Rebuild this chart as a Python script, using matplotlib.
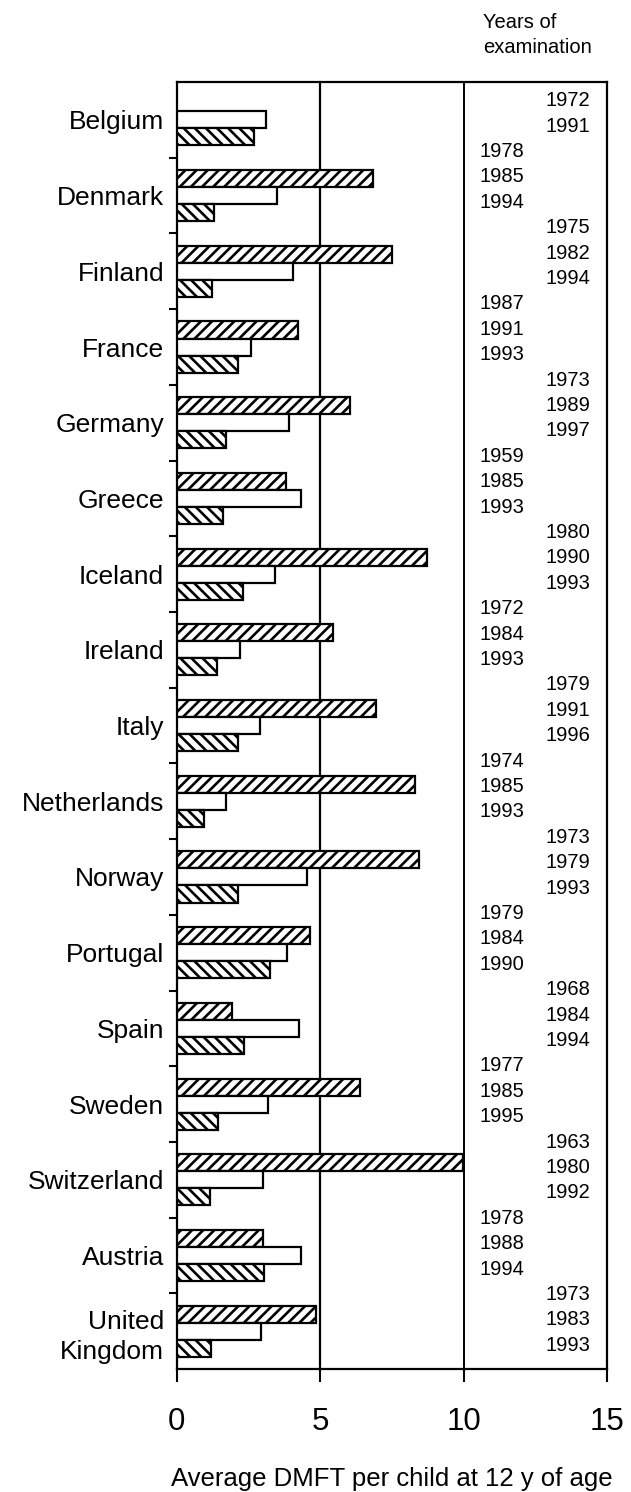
import numpy as np
import matplotlib
matplotlib.use('Agg')
import matplotlib.pyplot as plt

countries = ['Belgium', 'Denmark', 'Finland', 'France', 'Germany', 'Greece',
             'Iceland', 'Ireland', 'Italy', 'Netherlands', 'Norway', 'Portugal',
             'Spain', 'Sweden', 'Switzerland', 'Austria', 'United\nKingdom']
# DMFT at first, second and third examination (Belgium has only two)
first = [np.nan, 6.83, 7.51, 4.23, 6.03, 3.82, 8.73, 5.44, 6.95, 8.29,
         8.45, 4.66, 1.94, 6.38, 9.98, 3.0, 4.85]
second = [3.11, 3.49, 4.04, 2.60, 3.93, 4.33, 3.41, 2.21, 2.91, 1.72,
          4.54, 3.84, 4.25, 3.17, 3.0, 4.35, 2.95]
third = [2.71, 1.31, 1.24, 2.13, 1.72, 1.63, 2.30, 1.42, 2.13, 0.95,
         2.13, 3.24, 2.36, 1.45, 1.16, 3.05, 1.2]
years = [['1972', '1991'], ['1978', '1985', '1994'], ['1975', '1982', '1994'],
         ['1987', '1991', '1993'], ['1973', '1989', '1997'], ['1959', '1985', '1993'],
         ['1980', '1990', '1993'], ['1972', '1984', '1993'], ['1979', '1991', '1996'],
         ['1974', '1985', '1993'], ['1973', '1979', '1993'], ['1979', '1984', '1990'],
         ['1968', '1984', '1994'], ['1977', '1985', '1995'], ['1963', '1980', '1992'],
         ['1978', '1988', '1994'], ['1973', '1983', '1993']]

plt.rcParams['font.family'] = ['Liberation Sans', 'DejaVu Sans']
plt.rcParams['hatch.linewidth'] = 1.9

fig = plt.figure(figsize=(6.31, 14.92), dpi=100)
ax = fig.add_axes([0.280, 0.0824, 0.682, 0.8626])

y = np.arange(len(countries))
h = 0.225
bar_kw = dict(height=h, edgecolor='black', linewidth=1.6, zorder=3)
ax.barh(y - h, first, color='white', hatch='///', **bar_kw)
ax.barh(y, second, color='white', **bar_kw)
ax.barh(y + h, third, color='white', hatch='\\\\\\', **bar_kw)

ax.axvline(5, color='black', lw=1.6, zorder=1)
ax.axvline(10, color='black', lw=1.4, zorder=1)

ax.set_xlim(0, 15)
ax.set_ylim(len(countries) - 0.5, -0.5)
ax.set_xticks([0, 5, 10, 15])
ax.set_xticklabels(['0', '5', '10', '15'], fontsize=22.5)
ax.tick_params(axis='x', direction='out', length=9, width=1.5, pad=18)
ax.set_yticks(y)
ax.set_yticklabels(countries, fontsize=19)
ax.tick_params(axis='y', which='major', length=0, pad=9)
ax.set_yticks(np.arange(0.5, len(countries) - 1, 1), minor=True)
ax.tick_params(axis='y', which='minor', direction='out', length=6, width=1.5)
for lab in ax.get_yticklabels():
    lab.set_linespacing(1.35)
for sp in ax.spines.values():
    sp.set_linewidth(1.6)

ax.set_xlabel('Average DMFT per child at 12 y of age', fontsize=18.5, labelpad=22)

# year labels, alternating columns, running down in rows
row = 0
for i, ys in enumerate(years):
    xcol = 12.85 if i % 2 == 0 else 10.55
    for yr in ys:
        ax.text(xcol, -0.253 + 0.3355 * row, yr, fontsize=14.5,
                ha='left', va='center', zorder=4)
        row += 1

fig.text(483 / 631, 1 - 35 / 1492, 'Years of\nexamination', fontsize=14.5,
         ha='left', va='center', linespacing=1.35)

fig.savefig('out.png', dpi=100)
